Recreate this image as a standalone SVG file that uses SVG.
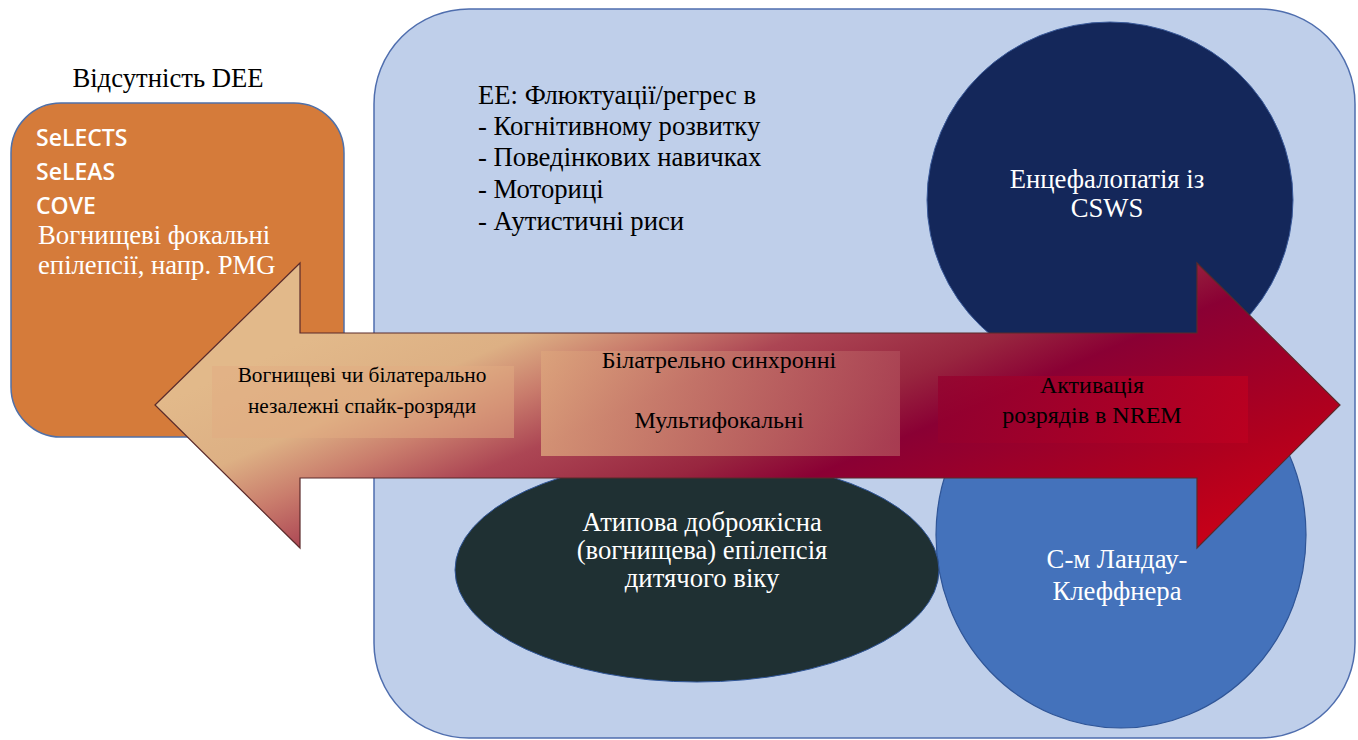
<svg xmlns="http://www.w3.org/2000/svg" width="1358" height="740" viewBox="0 0 1358 740">
<defs>
<linearGradient id="arrowGrad" gradientUnits="userSpaceOnUse" x1="155" y1="405" x2="368" y2="902">
<stop offset="0" stop-color="#E2B98A"/>
<stop offset="0.15" stop-color="#DDB084"/>
<stop offset="0.25" stop-color="#C97C6C"/>
<stop offset="0.35" stop-color="#AC4654"/>
<stop offset="0.5" stop-color="#98263F"/>
<stop offset="0.6" stop-color="#8A0034"/>
<stop offset="0.86" stop-color="#B0001E"/>
<stop offset="1" stop-color="#C80018"/>
</linearGradient>
<linearGradient id="box2Grad" x1="0" y1="0" x2="1" y2="0">
<stop offset="0" stop-color="#DCA47C"/>
<stop offset="1" stop-color="#AE4A58"/>
</linearGradient>
<linearGradient id="box3Grad" x1="0" y1="0" x2="1" y2="0">
<stop offset="0" stop-color="#94002E"/>
<stop offset="1" stop-color="#BE0020"/>
</linearGradient>
<style>
.serif{font-family:"Liberation Serif","Times New Roman",serif;}
.sans{font-family:"Open Sans","Liberation Sans",sans-serif;}
.w{fill:#FFFFFF;}
.k{fill:#000000;}
</style>
</defs>
<rect width="1358" height="740" fill="#FFFFFF"/>

<g id="ee-region">
<rect x="374" y="9" width="981" height="729" rx="95" ry="95" fill="#BFCFEA" stroke="#4F6EAE" stroke-width="1.5"/>
<g class="serif k" font-size="26.7">
<text x="478" y="104">ЕЕ: Флюктуації/регрес в</text>
<text x="478" y="135">- Когнітивному розвитку</text>
<text x="478" y="166">- Поведінкових навичках</text>
<text x="478" y="198">- Моториці</text>
<text x="478" y="230">- Аутистичні риси</text>
</g>
</g>

<g id="no-dee">
<text class="serif k" x="168" y="87" font-size="26.7" text-anchor="middle">Відсутність DEE</text>
<rect x="11" y="103" width="333" height="334" rx="50" ry="50" fill="#D57B3A" stroke="#5070A8" stroke-width="1.5"/>
<g class="sans w" font-size="23" font-weight="600">
<text x="36" y="146">SeLECTS</text>
<text x="36" y="180">SeLEAS</text>
<text x="36" y="214">COVE</text>
</g>
<g class="serif w" font-size="26.7">
<text x="38" y="244">Вогнищеві фокальні</text>
<text x="38" y="274">епілепсії, напр. PMG</text>
</g>
</g>

<g id="csws">
<ellipse cx="1110" cy="200" rx="183" ry="178" fill="#14275A" stroke="#3A5A9A" stroke-width="1"/>
<g class="serif w" font-size="26.7" text-anchor="middle">
<text x="1107" y="188">Енцефалопатія із</text>
<text x="1107" y="217">CSWS</text>
</g>
</g>

<g id="landau-kleffner">
<ellipse cx="1121" cy="535" rx="185" ry="193" fill="#4472BB" stroke="#2F5597" stroke-width="1.2"/>
<g class="serif w" font-size="26.7" text-anchor="middle">
<text x="1117" y="568">С-м Ландау-</text>
<text x="1117" y="600">Клеффнера</text>
</g>
</g>

<g id="atypical-benign">
<ellipse cx="697" cy="570" rx="242" ry="112" fill="#1F3033" stroke="#2F5597" stroke-width="1"/>
<g class="serif w" font-size="26.7" text-anchor="middle">
<text x="702" y="531">Атипова доброякісна</text>
<text x="702" y="559">(вогнищева) епілепсія</text>
<text x="702" y="587">дитячого віку</text>
</g>
</g>

<g id="connectors">
<path id="spectrum-arrow" d="M155,405 L300,263 L300,333 L1197,333 L1197,263 L1340,405 L1197,548 L1197,478 L300,478 L300,548 Z" fill="url(#arrowGrad)" stroke="#5A2A2A" stroke-width="1.2" stroke-linejoin="miter"/>
</g>

<g id="label-focal">
<rect x="212" y="366" width="302" height="72" fill="#E2AC82" fill-opacity="0.5"/>
<g class="serif k" font-size="21.3" text-anchor="middle">
<text x="362" y="382">Вогнищеві чи білатерально</text>
<text x="362" y="413">незалежні спайк-розряди</text>
</g>
</g>

<g id="label-bilateral">
<rect x="541" y="351" width="359" height="105" fill="url(#box2Grad)" fill-opacity="0.8"/>
<g class="serif k" font-size="24" text-anchor="middle">
<text x="719" y="368">Білатрельно синхронні</text>
<text x="719" y="428">Мультифокальні</text>
</g>
</g>

<g id="label-nrem">
<rect x="938" y="376" width="310" height="67" fill="url(#box3Grad)" fill-opacity="0.75"/>
<g class="serif k" font-size="24" text-anchor="middle">
<text x="1092" y="393">Активація</text>
<text x="1092" y="423">розрядів в NREM</text>
</g>
</g>
</svg>
